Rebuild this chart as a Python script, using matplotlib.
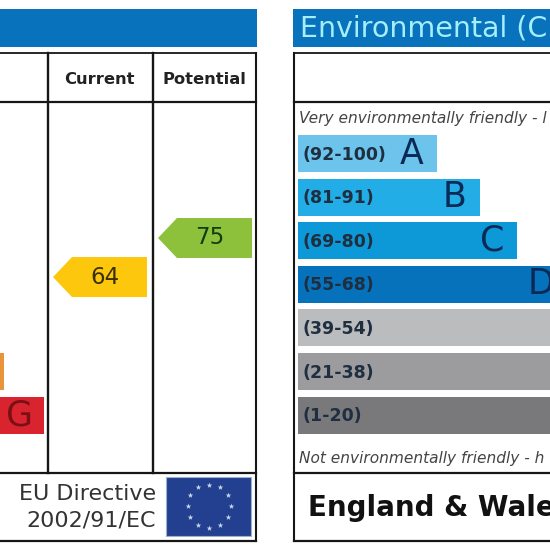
import numpy as np
import matplotlib
matplotlib.use("Agg")
import matplotlib.pyplot as plt
from matplotlib.patches import Polygon, Rectangle

# values
band_letters = ["A", "B", "C", "D", "E", "F", "G"]
band_ranges = ["(92-100)", "(81-91)", "(69-80)", "(55-68)", "(39-54)", "(21-38)", "(1-20)"]
band_lengths = [139, 182, 219, 268, 305, 348, 391]
show_letter = [True, True, True, True, False, False, False]
left_band_ends = [4, 44]
current_score = 64
potential_score = 75

env_colors = ["#6cc4ec", "#22ade6", "#0d98d8", "#0672bc", "#bbbcbe", "#9c9b9e", "#79787b"]
left_colors = ["#e8943a", "#d9232e"]
BLUE = "#0872bd"
LINE = "#161616"

BAND_TOP = 135
BAND_STEP = 43.6
BAND_H = 37


def band_y(i):
    return BAND_TOP + BAND_STEP * i


def score_y(score):
    # both arrows sit on this scale
    return 238 + (potential_score - score) * 3.55


def draw_arrow(ax, x_right, score, color, text_color):
    y = score_y(score)
    w, h = 94, 40
    pts = [(x_right, y - h / 2), (x_right - w + 19, y - h / 2), (x_right - w, y),
           (x_right - w + 19, y + h / 2), (x_right, y + h / 2)]
    ax.add_patch(Polygon(pts, closed=True, facecolor=color, edgecolor="none", zorder=3))
    ax.text(x_right - 42, y, str(score), fontsize=16.5, color=text_color,
            ha="center", va="center", zorder=4)


fig = plt.figure(figsize=(5.5, 5.5), dpi=100)
ax = fig.add_axes([0, 0, 1, 1])
ax.set_xlim(0, 550)
ax.set_ylim(550, 0)
ax.axis("off")

# header strips
ax.add_patch(Rectangle((-5, 9), 262, 38, facecolor=BLUE, edgecolor="none"))
ax.add_patch(Rectangle((293, 9), 262, 38, facecolor=BLUE, edgecolor="none"))
ax.text(300, 29, "Environmental (C", fontsize=20.5, color="#a5eefc", ha="left", va="center")

# table frames
for x0, x1 in [(-5, 256), (294, 560)]:
    ax.plot([x0, x1], [53, 53], color=LINE, lw=1.3)
    ax.plot([x0, x1], [102, 102], color=LINE, lw=1.6)
    ax.plot([x0, x1], [472.5, 472.5], color=LINE, lw=1.6)
    ax.plot([x0, x1], [541, 541], color=LINE, lw=1.6)
ax.plot([256, 256], [53, 541], color=LINE, lw=1.5)
ax.plot([294, 294], [53, 541], color=LINE, lw=1.5)
for x in [47.5, 152.5]:
    ax.plot([x, x], [53, 472.5], color=LINE, lw=1.7)

ax.text(99.5, 80, "Current", fontsize=11.8, fontweight="bold", color="#222222", ha="center", va="center")
ax.text(204, 80, "Potential", fontsize=11.8, fontweight="bold", color="#222222", ha="center", va="center")

# left chart, only the ends of the last bands are in frame
for i, (end, c) in enumerate(zip(left_band_ends, left_colors)):
    ax.barh(band_y(5 + i) + BAND_H / 2, end + 50, left=-50, height=BAND_H, color=c, zorder=2)
ax.text(left_band_ends[1] - 25, band_y(6) + BAND_H / 2, "G", fontsize=25, color="#7a1015",
        ha="center", va="center", zorder=3)

draw_arrow(ax, 147, current_score, "#fcc70d", "#3b3000")
draw_arrow(ax, 252, potential_score, "#8dc13c", "#123c12")

# right chart
ax.text(299, 119, "Very environmentally friendly - l", fontsize=11.1,
        style="italic", color="#444444", ha="left", va="center")
ax.text(299, 458, "Not environmentally friendly - h", fontsize=11.1,
        style="italic", color="#444444", ha="left", va="center")
for i, (letter, rng, length, c) in enumerate(zip(band_letters, band_ranges, band_lengths, env_colors)):
    y = band_y(i)
    ax.barh(y + BAND_H / 2, length, left=298, height=BAND_H, color=c, zorder=2)
    ax.text(303, y + BAND_H / 2 + 1, rng, fontsize=12.5, fontweight="bold", color="#1f2f40",
            ha="left", va="center", zorder=3)
    if show_letter[i]:
        ax.text(298 + length - 25, y + BAND_H / 2, letter, fontsize=25, color="#0a2a55",
                ha="center", va="center", zorder=3)

# footer
ax.text(156, 494, "EU Directive", fontsize=16, color="#333333", ha="right", va="center")
ax.text(156, 521, "2002/91/EC", fontsize=16, color="#333333", ha="right", va="center")
ax.text(308, 508, "England & Wale", fontsize=20, fontweight="bold", color="#111111",
        ha="left", va="center")

# EU flag
ax.add_patch(Rectangle((166, 477), 85, 59, facecolor="#22408f", edgecolor="#9fb0cf", lw=0.8, zorder=2))
angles = np.deg2rad(np.arange(0, 360, 30))
ax.scatter(209 + 21.5 * np.sin(angles), 506 - 21.5 * np.cos(angles), s=18, color="#cfd8ea",
           marker="*", linewidths=0, zorder=3)

fig.savefig("out.png", dpi=100)
